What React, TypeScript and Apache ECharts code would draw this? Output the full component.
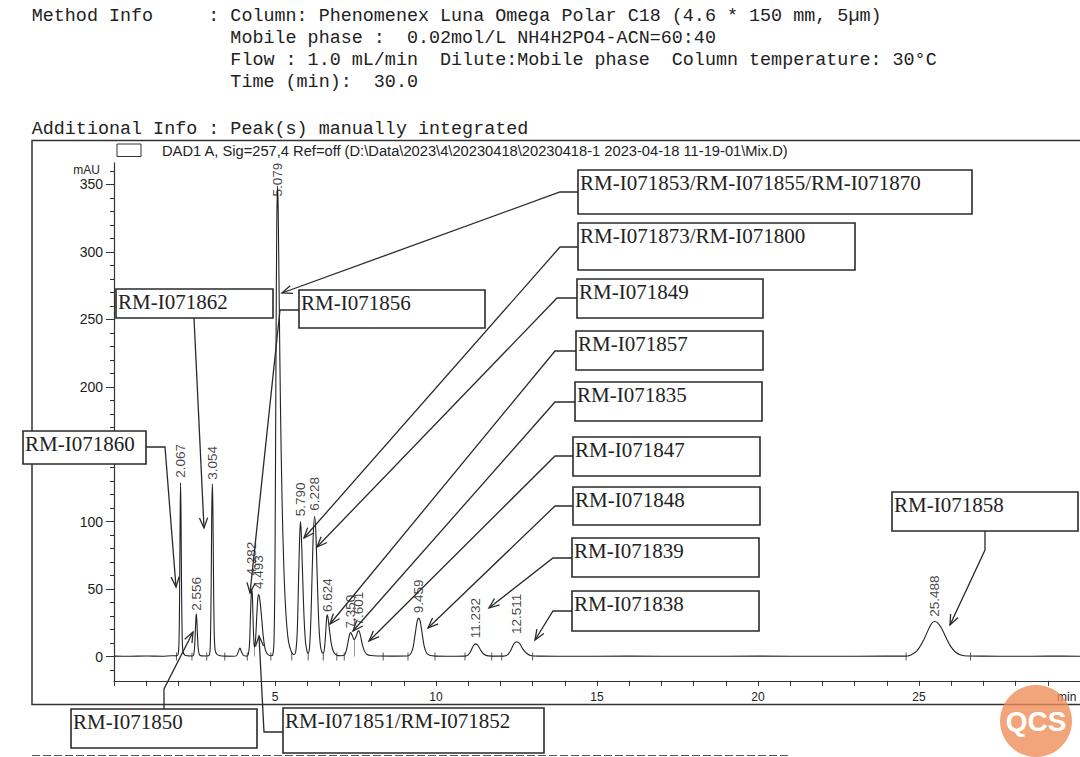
import React, { useEffect, useRef } from 'react';
import * as echarts from 'echarts';

// ---------- DATA ----------
const tracePoints: [number, number][] = [
  [0, 0.3], [0.5, 0.2], [1.0, 0.4], [1.5, 0.2], [1.8, 0.6], [1.94, 0.5],
  [1.99, 1.5], [2.02, 12], [2.04, 55], [2.055, 105], [2.067, 129], [2.08, 108], [2.095, 60], [2.115, 18], [2.14, 4], [2.2, 1], [2.3, 0.5], [2.42, 0.4],
  [2.47, 1], [2.5, 6], [2.525, 18], [2.545, 29], [2.556, 31.5], [2.57, 28], [2.59, 17], [2.615, 6], [2.65, 1.5], [2.72, 0.5], [2.88, 0.4],
  [2.96, 1], [2.99, 8], [3.015, 45], [3.035, 105], [3.054, 128], [3.07, 112], [3.09, 60], [3.11, 20], [3.14, 5], [3.2, 1.5], [3.3, 0.6], [3.45, 0.3], [3.7, 0.2],
  [3.8, 0.5], [3.86, 3.5], [3.91, 6.2], [3.96, 3.5], [4.02, 0.8], [4.12, 0.3],
  [4.17, 1.5], [4.21, 10], [4.24, 32], [4.265, 47], [4.282, 50], [4.3, 44], [4.325, 22], [4.35, 9], [4.37, 7], [4.4, 14], [4.44, 33], [4.47, 44], [4.493, 46], [4.53, 42], [4.58, 30], [4.64, 14], [4.7, 5], [4.78, 1.5], [4.87, 0.6],
  [4.93, 1], [4.97, 12], [5.0, 70], [5.03, 220], [5.055, 320], [5.079, 349], [5.1, 330], [5.13, 265], [5.17, 185], [5.22, 115], [5.28, 62], [5.35, 28], [5.42, 11], [5.5, 4], [5.58, 1.5],
  [5.64, 3], [5.69, 18], [5.73, 55], [5.765, 88], [5.79, 100], [5.815, 92], [5.85, 66], [5.9, 30], [5.95, 10], [6.0, 3.5], [6.03, 2.5],
  [6.08, 9], [6.13, 40], [6.18, 85], [6.228, 104], [6.265, 94], [6.31, 60], [6.36, 25], [6.41, 8], [6.46, 3], [6.5, 2.5],
  [6.54, 7], [6.58, 20], [6.605, 29], [6.624, 31], [6.65, 28], [6.7, 18], [6.76, 8], [6.83, 3], [6.92, 1], [7.05, 0.6], [7.15, 1],
  [7.21, 4], [7.27, 11], [7.32, 16.5], [7.35, 17.8], [7.4, 15.5], [7.46, 12.5], [7.52, 15], [7.57, 18.5], [7.601, 19], [7.65, 16], [7.71, 9], [7.78, 4], [7.86, 1.5], [7.98, 0.7], [8.2, 0.4], [8.6, 0.3],
  [9.1, 0.4], [9.2, 1.5], [9.28, 6], [9.35, 16], [9.41, 25.5], [9.459, 28.5], [9.51, 26], [9.57, 17], [9.64, 7], [9.72, 2.2], [9.82, 0.7], [10.0, 0.3], [10.5, 0.2],
  [10.9, 0.3], [11.0, 1.2], [11.08, 4], [11.16, 8], [11.232, 9.4], [11.31, 8], [11.4, 4.2], [11.5, 1.5], [11.62, 0.5], [11.9, 0.3],
  [12.1, 0.3], [12.22, 1.2], [12.32, 4.5], [12.42, 9.5], [12.511, 11], [12.6, 9.5], [12.7, 5.5], [12.82, 2.2], [12.96, 0.6], [13.2, 0.3],
  [14, 0.2], [16, 0.3], [18, 0.2], [20, 0.3], [22, 0.2], [24, 0.3], [24.55, 0.3],
  [24.75, 1.2], [24.95, 4.5], [25.15, 12.5], [25.3, 20.5], [25.4, 24.8], [25.488, 26], [25.58, 25], [25.7, 21], [25.85, 13.5], [26.0, 7], [26.15, 3], [26.3, 1.2], [26.5, 0.4],
  [27, 0.3], [28, 0.2], [29, 0.3], [30, 0.2],
];

const peakTimes = [2.067, 2.556, 3.054, 4.282, 4.493, 5.079, 5.79, 6.228, 6.624, 7.35, 7.601, 9.459, 11.232, 12.511, 25.488];
const peakTimeLabels = ['2.067', '2.556', '3.054', '4.282', '4.493', '5.079', '5.790', '6.228', '6.624', '7.350', '7.601', '9.459', '11.232', '12.511', '25.488'];
const peakLabelBase = [132.5, 34, 131, 60, 50, 341, 104, 108, 33, 20.7, 23, 32, 13.5, 16.7, 29.5];

const integrationMarks = [1.94, 2.42, 2.88, 3.44, 4.14, 4.87, 5.52, 6.03, 6.5, 6.92, 7.15, 8.36, 9.13, 9.97, 10.9, 11.73, 12.04, 13.0, 24.6, 26.6];
const valleyDrops: [number, number][] = [[4.37, 7], [7.46, 12.5]];

const yMajorTicks = [0, 50, 100, 150, 200, 250, 300, 350];
// 150 is hidden behind the RM-I071860 box in the reference
const yTickLabels = [0, 50, 100, 200, 250, 300, 350];
const yMinorTicks = [-10, 0, 10, 20, 30, 40, 50, 60, 70, 80, 90, 100, 110, 120, 130, 140, 150, 160, 170, 180, 190, 200, 210, 220, 230, 240, 250, 260, 270, 280, 290, 300, 310, 320, 330, 340, 350, 360];
const xTicks = [0, 1, 2, 3, 4, 5, 6, 7, 8, 9, 10, 11, 12, 13, 14, 15, 16, 17, 18, 19, 20, 21, 22, 23, 24, 25, 26, 27, 28, 29, 30];
const xLabels = [5, 10, 15, 20, 25];

const compoundNames = [
  'RM-I071853/RM-I071855/RM-I071870',
  'RM-I071873/RM-I071800',
  'RM-I071849',
  'RM-I071857',
  'RM-I071835',
  'RM-I071847',
  'RM-I071848',
  'RM-I071839',
  'RM-I071838',
  'RM-I071862',
  'RM-I071856',
  'RM-I071860',
  'RM-I071850',
  'RM-I071851/RM-I071852',
  'RM-I071858',
];

const headerLines = [
  'Method Info     : Column: Phenomenex Luna Omega Polar C18 (4.6 * 150 mm, 5µm)',
  '                  Mobile phase :  0.02mol/L NH4H2PO4-ACN=60:40',
  '                  Flow : 1.0 mL/min  Dilute:Mobile phase  Column temperature: 30°C',
  '                  Time (min):  30.0',
  'Additional Info : Peak(s) manually integrated',
];
const signalTitle = 'DAD1 A, Sig=257,4 Ref=off (D:\\Data\\2023\\4\\20230418\\20230418-1 2023-04-18 11-19-01\\Mix.D)';

// ---------- LAYOUT of annotation boxes (pixels) ----------
const boxLayout = [
  { x: 578, y: 170, w: 394, h: 44, leader: [[578, 192], [560, 192], [282, 293]] },
  { x: 578, y: 223, w: 277, h: 47, leader: [[578, 247], [560, 247], [304, 538]] },
  { x: 577, y: 279, w: 186, h: 39, leader: [[577, 298], [557, 298], [317, 547]] },
  { x: 576, y: 331, w: 187, h: 39, leader: [[576, 351], [555, 351], [330, 624]] },
  { x: 575, y: 382, w: 187, h: 39, leader: [[575, 402], [555, 402], [353, 631]] },
  { x: 573, y: 437, w: 187, h: 39, leader: [[573, 456], [555, 456], [369, 641]] },
  { x: 573, y: 487, w: 187, h: 38, leader: [[573, 506], [555, 506], [428, 628]] },
  { x: 572, y: 538, w: 187, h: 39, leader: [[572, 558], [553, 558], [489, 608]] },
  { x: 572, y: 591, w: 187, h: 40, leader: [[572, 611], [553, 611], [535, 640]] },
  { x: 116, y: 289, w: 157, h: 29, leader: [[194, 318], [204, 528]] },
  { x: 299, y: 290, w: 186, h: 38, leader: [[299, 310], [280, 310], [250, 593]] },
  { x: 23, y: 431, w: 123, h: 33, leader: [[146, 447], [165, 447], [176, 587]] },
  { x: 71, y: 709, w: 186, h: 39, leader: [[164, 709], [164, 689], [193, 632]] },
  { x: 283, y: 708, w: 261, h: 45, leader: [[283, 732], [264, 732], [259, 636]] },
  { x: 892, y: 492, w: 186, h: 39, leader: [[985, 531], [985, 550], [950, 625]] },
];

const INK = '#2a2a2a';

function arrowHead(p: number[], t: number[]) {
  const a = Math.atan2(t[1] - p[1], t[0] - p[0]);
  const L = 11;
  const s = 0.38;
  return [
    [t[0] - L * Math.cos(a - s), t[1] - L * Math.sin(a - s)],
    [t[0], t[1]],
    [t[0] - L * Math.cos(a + s), t[1] - L * Math.sin(a + s)],
  ];
}

function buildGraphics() {
  const g: any[] = [];
  g.push({ type: 'rect', silent: true, z: 1, shape: { x: 32, y: 140.5, width: 1100, height: 564 }, style: { fill: 'none', stroke: '#333', lineWidth: 1.5 } });
  g.push({ type: 'rect', silent: true, shape: { x: 117, y: 144, width: 24, height: 12.5 }, style: { fill: '#fff', stroke: '#333', lineWidth: 1 } });
  g.push({ type: 'text', silent: true, x: 162, y: 151, style: { text: signalTitle, fontSize: 14.7, fontFamily: 'Liberation Sans, Arial', fill: '#222', align: 'left', verticalAlign: 'middle' } });
  const ys = [16.5, 38.5, 60.5, 82.5, 129.5];
  headerLines.forEach((t, i) => {
    g.push({ type: 'text', silent: true, x: 31.7, y: ys[i], style: { text: t, fontSize: 18.4, fontFamily: 'Liberation Mono, Courier New, monospace', fill: '#222', align: 'left', verticalAlign: 'middle' } });
  });
  g.push({ type: 'text', silent: true, x: 100, y: 170, style: { text: 'mAU', fontSize: 12, fontFamily: 'Liberation Sans, Arial', fill: '#222', align: 'right', verticalAlign: 'middle' } });
  g.push({ type: 'text', silent: true, x: 1057, y: 697, style: { text: 'min', fontSize: 12, fontFamily: 'Liberation Sans, Arial', fill: '#222', align: 'left', verticalAlign: 'middle' } });
  boxLayout.forEach((b, i) => {
    const pts = b.leader;
    g.push({ type: 'polyline', silent: true, z: 20, shape: { points: pts }, style: { stroke: INK, lineWidth: 1.3, fill: 'none' } });
    g.push({ type: 'polyline', silent: true, z: 20, shape: { points: arrowHead(pts[pts.length - 2], pts[pts.length - 1]) }, style: { stroke: INK, lineWidth: 1.3, fill: 'none' } });
    g.push({ type: 'rect', silent: true, z: 21, shape: { x: b.x, y: b.y, width: b.w, height: b.h }, style: { fill: '#fff', stroke: INK, lineWidth: 1.6 } });
    g.push({ type: 'text', silent: true, z: 22, x: b.x + 2, y: b.y + 2, style: { text: compoundNames[i], fontSize: 21, fontFamily: 'Liberation Serif, Times New Roman, serif', fill: '#222', align: 'left', verticalAlign: 'top' } });
  });
  g.push({ type: 'line', silent: true, shape: { x1: 32, y1: 755.5, x2: 790, y2: 755.5 }, style: { stroke: '#555', lineWidth: 1.2, lineDash: [8, 3] } });
  g.push({ type: 'circle', silent: true, z: 30, shape: { cx: 1036, cy: 721, r: 36 }, style: { fill: 'rgba(238,140,85,0.78)' } });
  g.push({ type: 'text', silent: true, z: 31, x: 1036, y: 721, style: { text: 'QCS', fontSize: 28, fontWeight: 'bold', fontFamily: 'Liberation Sans, Arial', fill: '#fff', align: 'center', verticalAlign: 'middle' } });
  return g;
}

export default function App() {
  const ref = useRef<HTMLDivElement>(null);
  useEffect(() => {
    if (!ref.current) return;
    const chart = echarts.init(ref.current, undefined, { renderer: 'svg' });
    const labelData = peakTimes.map((t, i) => ({ name: peakTimeLabels[i], value: [t, peakLabelBase[i]] }));
    chart.setOption({
      animation: false,
      backgroundColor: '#fff',
      grid: { left: 114, right: 0, top: 162.9, bottom: 76.2, containLabel: false },
      xAxis: {
        type: 'value', min: 0, max: 30,
        axisLine: { show: true, onZero: false, lineStyle: { color: '#333', width: 1.2 } },
        axisTick: { show: true, customValues: xTicks, length: 5, lineStyle: { color: '#333' } },
        axisLabel: { customValues: xLabels, color: '#222', fontSize: 12, fontFamily: 'Liberation Sans, Arial', margin: 10 },
        splitLine: { show: false },
      },
      yAxis: [
        {
          type: 'value', min: -18, max: 366,
          axisLine: { show: true, onZero: false, lineStyle: { color: '#333', width: 1.2 } },
          axisTick: { show: true, customValues: yMajorTicks, length: 8, lineStyle: { color: '#333' } },
          axisLabel: { customValues: yTickLabels, color: '#222', fontSize: 14, fontFamily: 'Liberation Sans, Arial', margin: 11 },
          splitLine: { show: false },
        },
        {
          type: 'value', min: -18, max: 366, position: 'left',
          axisLine: { show: false },
          axisTick: { show: true, customValues: yMinorTicks, length: 4, lineStyle: { color: '#333' } },
          axisLabel: { show: false },
          splitLine: { show: false },
        },
      ],
      series: [
        {
          type: 'line', data: tracePoints, showSymbol: false, symbol: 'none', smooth: 0.3,
          lineStyle: { color: '#222', width: 1.1 }, z: 3,
        },
        {
          type: 'scatter', data: labelData, symbolSize: 0, z: 4,
          label: {
            show: true, formatter: '{b}', rotate: 90, position: 'inside', align: 'left', verticalAlign: 'middle',
            fontSize: 13.5, color: '#111', fontFamily: 'Liberation Sans, Arial',
          },
        },
        {
          type: 'scatter', data: integrationMarks.map((t) => [t, 0]), symbol: 'rect', symbolSize: [1, 8],
          itemStyle: { color: '#333' }, z: 3,
        },
        {
          type: 'lines', coordinateSystem: 'cartesian2d',
          data: valleyDrops.map((d) => ({ coords: [[d[0], 0], [d[0], d[1]]] })),
          lineStyle: { color: '#333', width: 1 }, z: 3,
        },
      ],
      graphic: buildGraphics(),
    });
    return () => chart.dispose();
  }, []);
  return <div ref={ref} style={{ position: 'fixed', left: 0, top: 0, width: 1080, height: 757, background: '#fff' }} />;
}
